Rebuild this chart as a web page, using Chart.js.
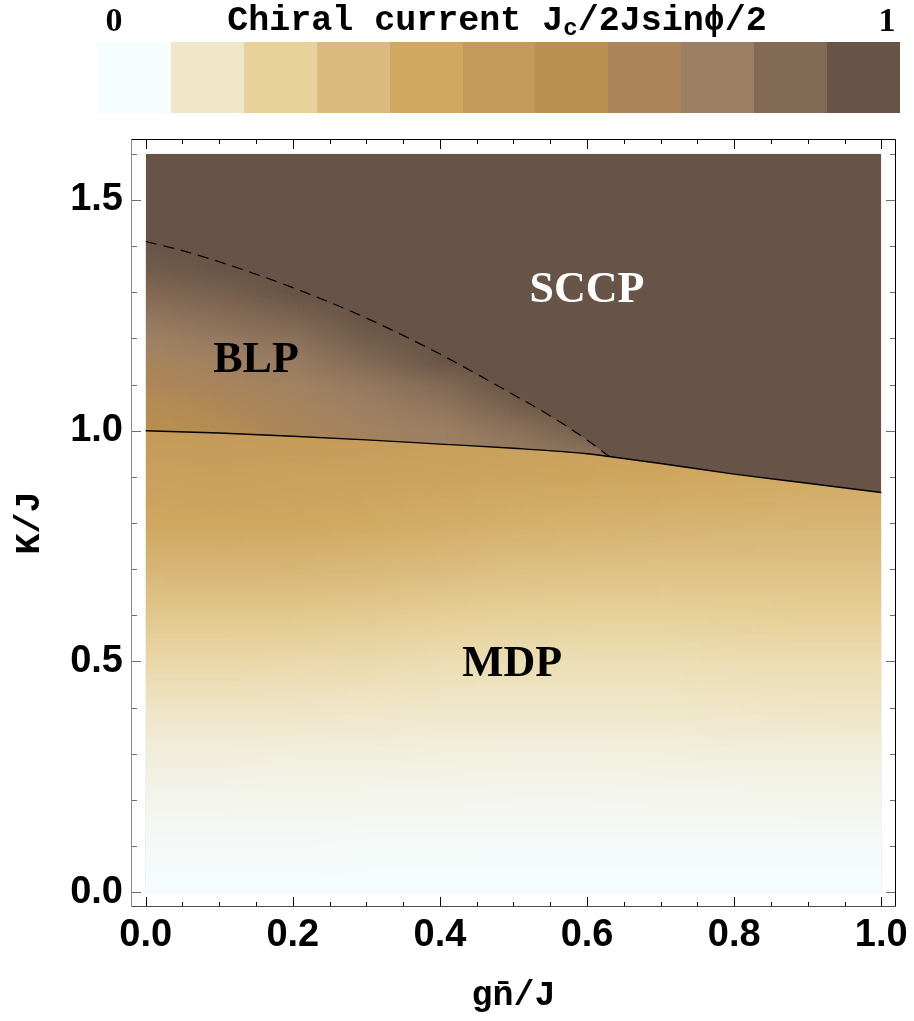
<!DOCTYPE html>
<html>
<head>
<meta charset="utf-8">
<script src="https://cdn.jsdelivr.net/npm/chart.js@4.4.1/dist/chart.umd.min.js"></script>
<style>
  html, body { margin: 0; padding: 0; background: #ffffff; }
  #wrap { width: 914px; height: 1021px; }
</style>
</head>
<body>
<div id="wrap"><canvas id="phase" width="914" height="1021"></canvas></div>
<script>
// Colour scale of the chiral current (0 -> 1), one swatch per legend cell
const legendColors = ['#f6fdff', '#f0e7cb', '#e8d29b', '#dabb7d', '#d0a85f', '#c49a5a',
                      '#b99050', '#ab8559', '#9c8064', '#836a55', '#675446'];
const legendEnds = ['0', '1'];

// Phase boundary (solid): MDP below, BLP / SCCP above
const solidG = [0, 0.1, 0.2, 0.3, 0.4, 0.5, 0.6, 0.63, 0.7, 0.8, 0.9, 1.0];
const solidK = [1.0, 0.995, 0.988, 0.980, 0.971, 0.962, 0.950, 0.944, 0.929, 0.906, 0.886, 0.866];

// Crossover line (dashed) between BLP and SCCP
const dashG = [0, 0.05, 0.1, 0.2, 0.3, 0.4, 0.5, 0.55, 0.6, 0.63];
const dashK = [1.41, 1.39, 1.366, 1.31, 1.244, 1.166, 1.078, 1.032, 0.98, 0.944];

// Chiral current in the MDP region: rows are K/J, columns are gn/J
const mdpG = [0, 0.1, 0.2, 0.3, 0.4, 0.5, 0.6, 0.7, 0.8, 0.9, 1.0];
const mdpK = [0, 0.1, 0.2, 0.3, 0.4, 0.5, 0.6, 0.7, 0.8, 0.9, 1.0];
const mdpValues = [
  [0, 0, 0, 0, 0, 0, 0, 0, 0, 0, 0],
  [0.012, 0.012, 0.012, 0.011, 0.011, 0.010, 0.010, 0.010, 0.010, 0.010, 0.010],
  [0.035, 0.035, 0.034, 0.033, 0.032, 0.031, 0.031, 0.032, 0.033, 0.034, 0.034],
  [0.066, 0.066, 0.065, 0.063, 0.061, 0.060, 0.060, 0.061, 0.063, 0.065, 0.065],
  [0.11, 0.11, 0.108, 0.105, 0.10, 0.10, 0.10, 0.102, 0.105, 0.108, 0.11],
  [0.17, 0.17, 0.165, 0.16, 0.15, 0.145, 0.145, 0.145, 0.148, 0.15, 0.15],
  [0.245, 0.245, 0.24, 0.23, 0.215, 0.205, 0.20, 0.20, 0.205, 0.21, 0.21],
  [0.32, 0.325, 0.32, 0.31, 0.295, 0.28, 0.275, 0.27, 0.27, 0.27, 0.27],
  [0.40, 0.405, 0.40, 0.39, 0.375, 0.36, 0.35, 0.34, 0.335, 0.33, 0.33],
  [0.45, 0.455, 0.45, 0.445, 0.435, 0.425, 0.415, 0.405, 0.395, 0.385, 0.38],
  [0.50, 0.50, 0.495, 0.49, 0.48, 0.47, 0.46, 0.45, 0.44, 0.43, 0.42]
];

// Chiral current in the BLP region: rows are K/J, columns are gn/J
const blpG = [0, 0.1, 0.2, 0.3, 0.4, 0.5, 0.6, 0.7];
const blpK = [0.90, 0.95, 1.00, 1.05, 1.10, 1.15, 1.20, 1.25, 1.30, 1.35, 1.40, 1.45];
const blpValues = [
  [0.56, 0.59, 0.66, 0.72, 0.76, 0.80, 0.84, 0.90],
  [0.58, 0.61, 0.68, 0.74, 0.78, 0.82, 0.86, 0.95],
  [0.60, 0.63, 0.70, 0.76, 0.80, 0.86, 0.95, 1],
  [0.63, 0.67, 0.73, 0.80, 0.84, 0.94, 1, 1],
  [0.68, 0.72, 0.77, 0.83, 0.90, 1, 1, 1],
  [0.73, 0.78, 0.82, 0.90, 0.99, 1, 1, 1],
  [0.79, 0.83, 0.87, 0.96, 1, 1, 1, 1],
  [0.84, 0.88, 0.93, 1, 1, 1, 1, 1],
  [0.90, 0.94, 1, 1, 1, 1, 1, 1],
  [0.96, 0.99, 1, 1, 1, 1, 1, 1],
  [0.99, 1, 1, 1, 1, 1, 1, 1],
  [1, 1, 1, 1, 1, 1, 1, 1]
];
// The SCCP phase carries the full current
const sccpValue = 1;

// Phase names and where they sit (gn/J, K/J at the text baseline)
const phaseNames = ['SCCP', 'BLP', 'MDP'];
const phaseG = [0.60, 0.15, 0.498];
const phaseK = [1.278, 1.127, 0.469];
const phaseInk = ['#ffffff', '#000000', '#000000'];

// Axis ticks
const xMajor = [0, 0.2, 0.4, 0.6, 0.8, 1.0];
const xMinor = [0.05, 0.1, 0.15, 0.25, 0.3, 0.35, 0.45, 0.5, 0.55, 0.65, 0.7, 0.75, 0.85, 0.9, 0.95];
const yMajor = [0, 0.5, 1.0, 1.5];
const yMinor = [0.1, 0.2, 0.3, 0.4, 0.6, 0.7, 0.8, 0.9, 1.1, 1.2, 1.3, 1.4, 1.6];

const G_RANGE = [0, 1];
const K_RANGE = [0, 1.6];

// ---------- colour helpers ----------
function hexToRgb(h) {
  const n = parseInt(h.slice(1), 16);
  return [(n >> 16) & 255, (n >> 8) & 255, n & 255];
}
const stops = legendColors.map(hexToRgb);
function colorFor(t) {
  t = Math.max(0, Math.min(1, t));
  const p = t * (stops.length - 1);
  const i = Math.min(Math.floor(p), stops.length - 2);
  const f = p - i;
  return stops[i].map((c, k) => Math.round(c + (stops[i + 1][k] - c) * f));
}
function gridImage(values) {
  const rows = values.length, cols = values[0].length;
  const cv = document.createElement('canvas');
  cv.width = cols; cv.height = rows;
  const cx = cv.getContext('2d');
  const img = cx.createImageData(cols, rows);
  for (let r = 0; r < rows; r++) {
    for (let c = 0; c < cols; c++) {
      const rgb = colorFor(values[r][c]);
      const o = ((rows - 1 - r) * cols + c) * 4;
      img.data[o] = rgb[0]; img.data[o + 1] = rgb[1]; img.data[o + 2] = rgb[2]; img.data[o + 3] = 255;
    }
  }
  cx.putImageData(img, 0, 0);
  return cv;
}
function drawGrid(ctx, xs, ys, gs, ks, values) {
  const dg = gs[1] - gs[0], dk = ks[1] - ks[0];
  const x0 = xs.getPixelForValue(gs[0] - dg / 2);
  const x1 = xs.getPixelForValue(gs[gs.length - 1] + dg / 2);
  const y0 = ys.getPixelForValue(ks[ks.length - 1] + dk / 2);
  const y1 = ys.getPixelForValue(ks[0] - dk / 2);
  ctx.imageSmoothingEnabled = true;
  ctx.imageSmoothingQuality = 'low';
  ctx.drawImage(gridImage(values), x0, y0, x1 - x0, y1 - y0);
}
function rgbStr(a) { return 'rgb(' + a.join(',') + ')'; }

// ---------- density field ----------
const densityPlugin = {
  id: 'density',
  beforeDatasetsDraw(chart) {
    const { ctx, scales: { x, y } } = chart;
    const L = x.getPixelForValue(G_RANGE[0]), R = x.getPixelForValue(G_RANGE[1]);
    const T = y.getPixelForValue(K_RANGE[1]), B = y.getPixelForValue(K_RANGE[0]);
    ctx.save();
    ctx.beginPath(); ctx.rect(L, T, R - L, B - T); ctx.clip();

    ctx.fillStyle = rgbStr(colorFor(sccpValue));
    ctx.fillRect(L, T, R - L, B - T);

    // MDP: everything below the solid boundary
    ctx.save();
    ctx.beginPath();
    solidG.forEach((g, i) => {
      const px = x.getPixelForValue(g), py = y.getPixelForValue(solidK[i]);
      i ? ctx.lineTo(px, py) : ctx.moveTo(px, py);
    });
    ctx.lineTo(x.getPixelForValue(G_RANGE[1]), B);
    ctx.lineTo(x.getPixelForValue(G_RANGE[0]), B);
    ctx.closePath();
    ctx.clip();
    drawGrid(ctx, x, y, mdpG, mdpK, mdpValues);
    ctx.restore();

    // BLP: between the solid boundary and the dashed crossover
    ctx.save();
    ctx.beginPath();
    dashG.forEach((g, i) => {
      const px = x.getPixelForValue(g), py = y.getPixelForValue(dashK[i]);
      i ? ctx.lineTo(px, py) : ctx.moveTo(px, py);
    });
    const gEnd = dashG[dashG.length - 1];
    for (let i = solidG.length - 1; i >= 0; i--) {
      if (solidG[i] <= gEnd) ctx.lineTo(x.getPixelForValue(solidG[i]), y.getPixelForValue(solidK[i]));
    }
    ctx.closePath();
    ctx.clip();
    drawGrid(ctx, x, y, blpG, blpK, blpValues);
    ctx.restore();

    ctx.restore();
  }
};

// ---------- frame, ticks, phase names, colour legend ----------
const decorPlugin = {
  id: 'decor',
  afterDatasetsDraw(chart) {
    const { ctx, chartArea: a, scales: { x, y } } = chart;
    ctx.save();
    const seg = (x1, y1, x2, y2) => { ctx.beginPath(); ctx.moveTo(x1, y1); ctx.lineTo(x2, y2); ctx.stroke(); };
    ctx.lineWidth = 1;

    // phase names
    ctx.font = 'bold 44px "Liberation Serif", "Times New Roman", serif';
    ctx.textAlign = 'center';
    ctx.textBaseline = 'alphabetic';
    phaseNames.forEach((n, i) => {
      ctx.fillStyle = phaseInk[i];
      ctx.fillText(n, x.getPixelForValue(phaseG[i]), y.getPixelForValue(phaseK[i]));
    });

    // horizontal-axis ticks (bottom and top, pointing inward)
    ctx.strokeStyle = '#000000';
    const xt = (v, len) => {
      const p = Math.round(x.getPixelForValue(v)) + 0.5;
      seg(p, a.bottom, p, a.bottom - len);
      seg(p, a.top, p, a.top + len);
    };
    xMajor.forEach(v => xt(v, 10));
    xMinor.forEach(v => xt(v, 5));

    // vertical-axis ticks (left and right, pointing inward)
    ctx.strokeStyle = '#6e6e6e';
    const yt = (v, len) => {
      const p = Math.round(y.getPixelForValue(v)) + 0.5;
      seg(a.left, p, a.left + len, p);
      seg(a.right, p, a.right - len, p);
    };
    yMajor.forEach(v => yt(v, 10));
    yMinor.forEach(v => yt(v, 6));

    // frame
    const l = Math.round(a.left) + 0.5, r = Math.round(a.right) - 0.5;
    const t = Math.round(a.top) + 0.5, b = Math.round(a.bottom) - 0.5;
    ctx.strokeStyle = '#8c8c8c'; seg(l, t, l, b);
    ctx.strokeStyle = '#4d4d4d'; seg(l, b, r, b);
    ctx.strokeStyle = '#000000'; seg(l, t, r, t); seg(r, t, r, b);
    ctx.restore();
  },
  afterDraw(chart) {
    const ctx = chart.ctx;
    ctx.save();
    // colour legend
    const barL = 98, barR = 900, barT = 42, barB = 113;
    const w = (barR - barL) / legendColors.length;
    legendColors.forEach((c, i) => {
      ctx.fillStyle = c;
      ctx.fillRect(Math.round(barL + i * w), barT, Math.round(barL + (i + 1) * w) - Math.round(barL + i * w), barB - barT);
    });
    // end values
    ctx.fillStyle = '#000';
    ctx.font = 'bold 34px "Liberation Serif", "Times New Roman", serif';
    ctx.textAlign = 'center';
    ctx.textBaseline = 'alphabetic';
    ctx.fillText(legendEnds[0], 114, 31);
    ctx.fillText(legendEnds[1], 887, 31);
    // legend title with subscript
    const parts = [
      { t: 'Chiral current J', size: 35, dy: 0 },
      { t: 'c', size: 24, dy: 5 },
      { t: '/2Jsin\u03D5/2', size: 35, dy: 0 }
    ];
    ctx.textAlign = 'left';
    let total = 0;
    parts.forEach(p => {
      ctx.font = 'bold ' + p.size + 'px "Liberation Mono", "Courier New", monospace';
      p.w = ctx.measureText(p.t).width; total += p.w;
    });
    let cx = 497 - total / 2;
    parts.forEach(p => {
      ctx.font = 'bold ' + p.size + 'px "Liberation Mono", "Courier New", monospace';
      ctx.fillText(p.t, cx, 30 + p.dy);
      cx += p.w;
    });
    ctx.restore();
  }
};

const tickFont = { family: '"Liberation Sans", Arial, sans-serif', size: 38, weight: 'bold' };
const titleFont = { family: '"Liberation Mono", "Courier New", monospace', size: 35, weight: 'bold' };

new Chart(document.getElementById('phase'), {
  type: 'scatter',
  data: {
    datasets: [
      {
        label: 'phase boundary',
        data: solidG.map((g, i) => ({ x: g, y: solidK[i] })),
        showLine: true, borderColor: '#000000', borderWidth: 1.4,
        pointRadius: 0, cubicInterpolationMode: 'monotone', fill: false
      },
      {
        label: 'crossover',
        data: dashG.map((g, i) => ({ x: g, y: dashK[i] })),
        showLine: true, borderColor: '#000000', borderWidth: 1.2, borderDash: [11, 7],
        pointRadius: 0, cubicInterpolationMode: 'monotone', fill: false
      }
    ]
  },
  options: {
    responsive: false,
    animation: false,
    devicePixelRatio: 1,
    layout: { padding: { top: 139, right: 16, left: 0, bottom: 0 } },
    plugins: { legend: { display: false }, tooltip: { enabled: false } },
    scales: {
      x: {
        type: 'linear', min: -0.02, max: 1.02,
        afterBuildTicks: s => { s.ticks = xMajor.map(v => ({ value: v })); },
        afterFit: s => { s.height = 114; },
        grid: { display: false, drawTicks: false },
        border: { display: false },
        ticks: { font: tickFont, color: '#000', padding: 6, maxRotation: 0, autoSkip: false,
                 callback: v => Number(v).toFixed(1) },
        title: { display: true, text: 'gn\u0304/J', font: titleFont, color: '#000', padding: { top: 0, bottom: 4 } }
      },
      y: {
        type: 'linear', min: -0.032, max: 1.632,
        afterBuildTicks: s => { s.ticks = yMajor.map(v => ({ value: v })); },
        afterFit: s => { s.width = 131; },
        grid: { display: false, drawTicks: false },
        border: { display: false },
        ticks: { font: tickFont, color: '#000', padding: 8, autoSkip: false,
                 callback: v => Number(v).toFixed(1) },
        title: { display: true, text: 'K/J', font: titleFont, color: '#000', padding: { top: 9, bottom: 0 } }
      }
    }
  },
  plugins: [densityPlugin, decorPlugin]
});
</script>
</body>
</html>
